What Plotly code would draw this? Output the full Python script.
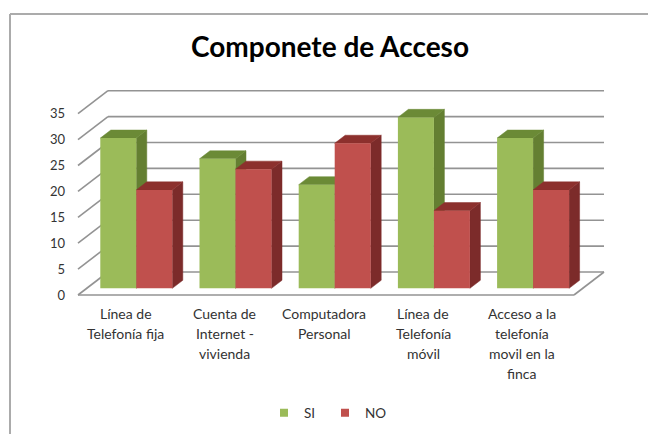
import plotly.graph_objects as go

categories = [
    ["Línea de", "Telefonía fija"],
    ["Cuenta de", "Internet -", "vivienda"],
    ["Computadora", "Personal"],
    ["Línea de", "Telefonía", "móvil"],
    ["Acceso a la", "telefonía", "movil en la", "finca"],
]
si_values = [29, 25, 20, 33, 29]
no_values = [19, 23, 28, 15, 19]
y_ticks = [0, 5, 10, 15, 20, 25, 30, 35]
title_text = "Componete de Acceso"

W, H = 648, 434
L, R, T, B = 68, 620, 60, 310          # plot area in pixels
PX_CAT, PX_UNIT = 99.2, 5.18           # pixels per category / per value unit
X0_PX, Y0_PX = 78, 295                 # front-left floor corner
DEPTH_X, DEPTH_Y = 30 / PX_CAT, 23 / PX_UNIT   # full depth offset in axis units
BAR_W = 36 / PX_CAT
D0, D1 = 0.29, 0.64                    # bar depth span
FONT = "Lato, Carlito, Calibri, sans-serif"
GRID = "#939393"
n = len(categories)


def px(x):
    return (x - X0_PX) / PX_CAT - 0.5


def py(v):
    return (Y0_PX - v) / PX_UNIT


def proj(x, v, d):
    return x + DEPTH_X * d, v + DEPTH_Y * d


def poly(points, color, z):
    xs, ys = zip(*points)
    return go.Scatter(x=list(xs) + [xs[0]], y=list(ys) + [ys[0]], mode="lines", fill="toself",
                      fillcolor=color, line=dict(color=color, width=0.5), hoverinfo="skip",
                      showlegend=False, zorder=z)


def line(p, q, z=0):
    return go.Scatter(x=[p[0], q[0]], y=[p[1], q[1]], mode="lines", line=dict(color=GRID, width=1.6),
                      hoverinfo="skip", showlegend=False, zorder=z)


fig = go.Figure()

# walls and floor
xl, xr = -0.5, n - 0.5
for t in y_ticks:
    fig.add_trace(line(proj(xl, t, 0), proj(xl, t, 1)))
    fig.add_trace(line(proj(xl, t, 1), proj(xr, t, 1)))
fig.add_trace(line(proj(xl, 0, 0), proj(xr, 0, 0)))
fig.add_trace(line(proj(xr, 0, 0), proj(xr, 0, 1)))


def add_series(values, name, offset, front, side, top, z):
    for i, v in enumerate(values):
        x0 = i + offset - BAR_W / 2
        x1 = i + offset + BAR_W / 2
        fig.add_trace(poly([proj(x1, 0, D0), proj(x1, 0, D1), proj(x1, v, D1), proj(x1, v, D0)], side, z))
        fig.add_trace(poly([proj(x0, v, D0), proj(x1, v, D0), proj(x1, v, D1), proj(x0, v, D1)], top, z))
    base_x, base_v = proj(0, 0, D0)
    fig.add_trace(go.Bar(x=[i + offset + base_x for i in range(n)], y=values, base=base_v, width=BAR_W,
                         marker=dict(color=front, line=dict(width=0)), name=name, showlegend=False, zorder=z + 1))
    fig.add_trace(go.Scatter(x=[None], y=[None], mode="markers", name=name,
                             marker=dict(symbol="square", size=8, color=front)))


add_series(si_values, "SI", -BAR_W / 2, "#9BBB59", "#647F32", "#6B8A36", 1)
add_series(no_values, "NO", BAR_W / 2, "#C0504D", "#7C2B2A", "#8C302D", 3)

annotations = []
for i, lines in enumerate(categories):
    for j, txt in enumerate(lines):
        annotations.append(dict(text=txt, x=i - 0.02, xref="x", y=(B - (313 + 20 * j)) / (B - T), yref="paper",
                                yanchor="middle", xanchor="center", showarrow=False,
                                font=dict(family=FONT, size=14, color="#333333")))

shapes = [
    dict(type="line", xref="paper", yref="paper", x0=(10 - L) / (R - L), x1=(10 - L) / (R - L),
         y0=(B - 14) / (B - T), y1=(B - 434) / (B - T), line=dict(color="#ABABAB", width=2)),
    dict(type="line", xref="paper", yref="paper", x0=(10 - L) / (R - L), x1=(648 - L) / (R - L),
         y0=(B - 14) / (B - T), y1=(B - 14) / (B - T), line=dict(color="#ABABAB", width=2)),
]

fig.update_layout(
    width=W, height=H, margin=dict(l=L, r=W - R, t=T, b=H - B, autoexpand=False),
    paper_bgcolor="white", plot_bgcolor="rgba(0,0,0,0)", barmode="overlay",
    title=dict(text=f"<b>{title_text}</b>", x=330 / W, xanchor="center", y=1 - 47 / H, yanchor="middle",
               font=dict(family=FONT, size=28, color="#000000")),
    xaxis=dict(range=[px(L), px(R)], showgrid=False, zeroline=False, showline=False, showticklabels=False, ticks=""),
    yaxis=dict(range=[py(B), py(T)], tickvals=y_ticks, showgrid=False, zeroline=False, showline=False, ticks="",
               ticklabelstandoff=2, tickfont=dict(family=FONT, size=13, color="#333333")),
    legend=dict(orientation="h", x=(325 - L) / (R - L), xanchor="center", entrywidth=16, entrywidthmode="pixels",
                y=(B - 413) / (B - T), yanchor="middle", font=dict(family=FONT, size=13.5, color="#333333")),
    annotations=annotations, shapes=shapes, showlegend=True,
)

fig.write_html("out.html", config={"displayModeBar": False}, post_script="document.body.style.margin='0';")
